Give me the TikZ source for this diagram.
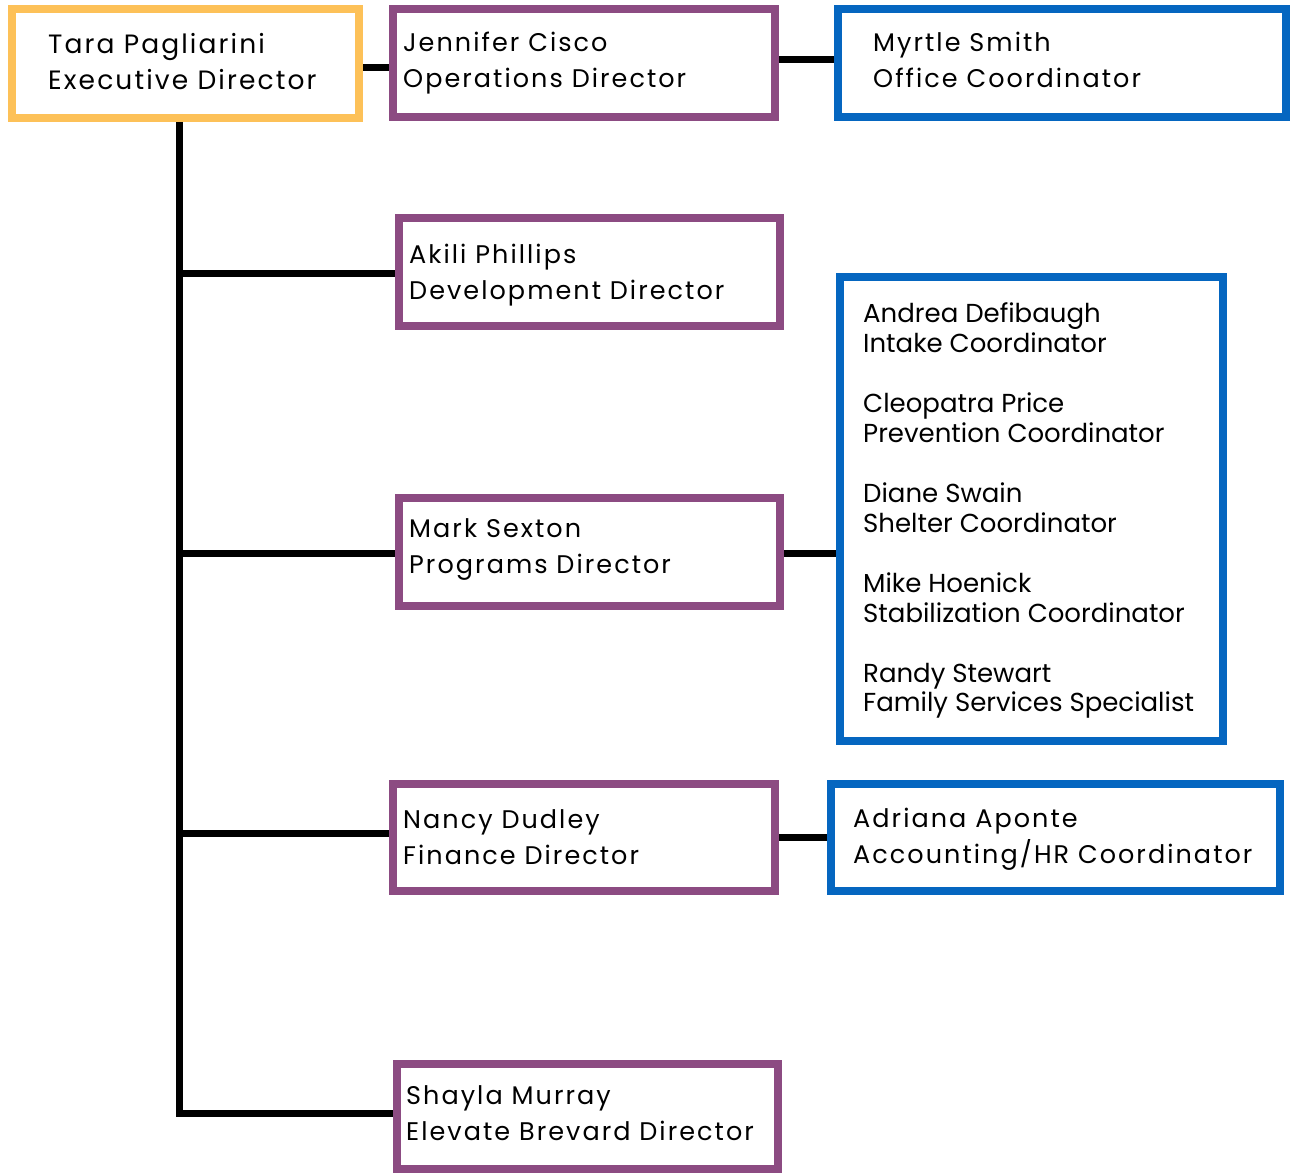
\documentclass[tikz,border=0pt]{standalone}
\usepackage{fontspec}
\usetikzlibrary{backgrounds}
\setmainfont{Poppins}
\newfontfamily\spacedfont[LetterSpace=8]{Poppins}
\newfontfamily\plainfont{Poppins}
\definecolor{cyel}{HTML}{FDC158}
\definecolor{cpur}{HTML}{8C4B82}
\definecolor{cblu}{HTML}{0566C0}
\begin{document}
\begin{tikzpicture}[x=1pt,y=-1pt,
  box/.style={draw,line width=8pt,fill=white,rectangle,inner sep=0pt,outer sep=0pt},
  exec/.style={box,draw=cyel},
  dir/.style={box,draw=cpur},
  coord/.style={box,draw=cblu},
  conn/.style={line width=7pt,black},
  sp/.style={anchor=base west,inner sep=0pt,font=\spacedfont\fontsize{25.5}{30}\selectfont},
  spbig/.style={sp,font=\spacedfont\fontsize{26.5}{30}\selectfont},
  pl/.style={anchor=base west,inner sep=0pt,font=\plainfont\fontsize{26}{30}\selectfont}]
\useasboundingbox (0,0) rectangle (1290,1173);
% coordinates for connectors
\coordinate (ttop) at (179,118);
\coordinate (tbot) at (179,1116.5);
\coordinate (b1) at (179,273);
\coordinate (b2) at (179,553);
\coordinate (b3) at (179,833);
\coordinate (b4) at (179,1113);
\coordinate (c0) at (0,67);
\coordinate (c1) at (0,59);
\coordinate (c2) at (0,553);
\coordinate (c3) at (0,837);
% boxes
\node[exec,minimum width=347pt,minimum height=109pt] (tara) at (185.5,63.5) {};
\node[dir,minimum width=382pt,minimum height=108pt] (jen) at (584,63) {};
\node[coord,minimum width=448pt,minimum height=108pt] (myrtle) at (1062,63) {};
\node[dir,minimum width=381pt,minimum height=108pt] (akili) at (589.5,272) {};
\node[coord,minimum width=383pt,minimum height=464pt] (team) at (1031.5,509) {};
\node[dir,minimum width=381pt,minimum height=108pt] (mark) at (589.5,552) {};
\node[dir,minimum width=382pt,minimum height=107pt] (nancy) at (584,837.5) {};
\node[coord,minimum width=449pt,minimum height=107pt] (adriana) at (1055.5,837.5) {};
\node[dir,minimum width=381pt,minimum height=105pt] (shayla) at (587.5,1116.5) {};
% connectors (behind the boxes)
\begin{scope}[on background layer]
\draw[conn] (ttop) -- (tbot);
\draw[conn] (b1) -- (b1 -| akili.west);
\draw[conn] (b2) -- (b2 -| mark.west);
\draw[conn] (b3) -- (b3 -| nancy.west);
\draw[conn] (b4) -- (b4 -| shayla.west);
\draw[conn] (c0 -| tara.east) -- (c0 -| jen.west);
\draw[conn] (c1 -| jen.east) -- (c1 -| myrtle.west);
\draw[conn] (c2 -| mark.east) -- (c2 -| team.west);
\draw[conn] (c3 -| nancy.east) -- (c3 -| adriana.west);
\end{scope}
% texts
\node[spbig] (tara1) at (48,53) {Tara Pagliarini};
\node[spbig] (tara2) at (48,89) {Executive Director};
\node[sp] (jen1) at (403,51) {Jennifer Cisco};
\node[sp] (jen2) at (403,87) {Operations Director};
\node[sp] (myr1) at (873,51) {Myrtle Smith};
\node[sp] (myr2) at (873,87) {Office Coordinator};
\node[sp] (ak1) at (409,263) {Akili Phillips};
\node[sp] (ak2) at (409,299) {Development Director};
\node[sp] (mk1) at (409,537) {Mark Sexton};
\node[sp] (mk2) at (409,573) {Programs Director};
\node[sp] (nd1) at (403,828) {Nancy Dudley};
\node[sp] (nd2) at (403,864) {Finance Director};
\node[sp] (aa1) at (853,827) {Adriana Aponte};
\node[sp] (aa2) at (853,863) {Accounting/HR Coordinator};
\node[sp] (sm1) at (406,1104) {Shayla Murray};
\node[sp] (sm2) at (406,1140) {Elevate Brevard Director};
\node[pl] (t1) at (863,322) {Andrea Defibaugh};
\node[pl] (t2) at (863,352) {Intake Coordinator};
\node[pl] (t3) at (863,412) {Cleopatra Price};
\node[pl] (t4) at (863,442) {Prevention Coordinator};
\node[pl] (t5) at (863,502) {Diane Swain};
\node[pl] (t6) at (863,532) {Shelter Coordinator};
\node[pl] (t7) at (863,592) {Mike Hoenick};
\node[pl] (t8) at (863,622) {Stabilization Coordinator};
\node[pl] (t9) at (863,682) {Randy Stewart};
\node[pl] (t10) at (863,711) {Family Services Specialist};
\end{tikzpicture}
\end{document}
